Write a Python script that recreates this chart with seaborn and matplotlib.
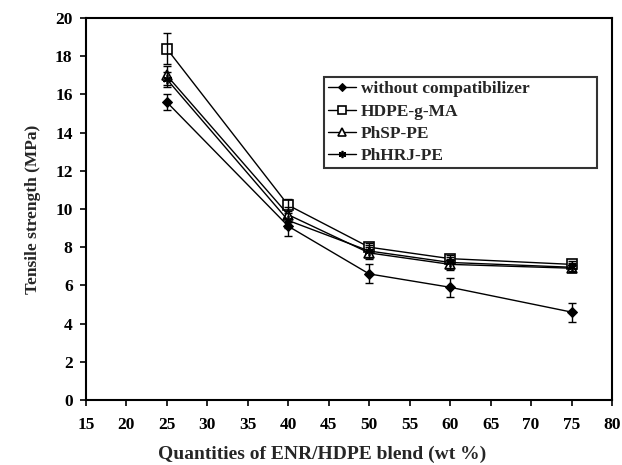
import matplotlib
matplotlib.use("Agg")
import matplotlib.pyplot as plt
import seaborn as sns
import pandas as pd

# Data
x_vals = [25, 40, 50, 60, 75]
without_comp = [15.6, 9.1, 6.6, 5.9, 4.6]
without_err = [0.4, 0.5, 0.5, 0.5, 0.5]
hdpe_g_ma = [18.4, 10.2, 8.0, 7.4, 7.1]
hdpe_err = [0.8, 0.3, 0.2, 0.2, 0.2]
phsp_pe = [17.0, 9.7, 7.7, 7.1, 6.9]
phsp_err = [0.5, 0.4, 0.3, 0.3, 0.2]
phhrj_pe = [16.8, 9.4, 7.8, 7.2, 6.95]
phhrj_err = [0.4, 0.4, 0.3, 0.3, 0.2]
series_names = ["without compatibilizer", "HDPE-g-MA", "PhSP-PE", "PhHRJ-PE"]
x_ticks = list(range(15, 81, 5))
y_ticks = list(range(0, 21, 2))

sns.set_theme(style="white")
plt.rcParams['font.family'] = ['Liberation Serif', 'DejaVu Serif']
plt.rcParams['font.weight'] = 'bold'

fig = plt.figure(figsize=(6.22, 4.65), dpi=100)
ax = fig.add_axes([0.138, 0.140, 0.846, 0.821])

series = [
    (without_comp, without_err, dict(marker='D', markersize=5.5, markerfacecolor='black', markeredgecolor='black')),
    (hdpe_g_ma, hdpe_err, dict(marker='s', markersize=6.5, markerfacecolor='white', markeredgecolor='black', markeredgewidth=1.2)),
    (phsp_pe, phsp_err, dict(marker='^', markersize=6.5, markerfacecolor='white', markeredgecolor='black', markeredgewidth=1.2)),
    (phhrj_pe, phhrj_err, dict(marker=(6, 2, 0), markersize=6.5, markeredgecolor='black', markeredgewidth=1.2)),
]

for name, (vals, errs, mk) in zip(series_names, series):
    df = pd.DataFrame({"x": x_vals, "y": vals})
    sns.lineplot(data=df, x="x", y="y", ax=ax, color='black', linewidth=1.0,
                 label=name, **mk)
    ax.errorbar(x_vals, vals, yerr=errs, fmt='none', ecolor='black',
                elinewidth=1.0, capsize=3, capthick=1.0)

ax.set_xlim(15, 80)
ax.set_ylim(0, 20)
ax.set_xticks(x_ticks)
ax.set_yticks(y_ticks)
ax.tick_params(axis='both', which='major', direction='out', length=4.5, width=1.2,
               colors='black', labelsize=12.5, bottom=True, left=True)
ax.tick_params(axis='x', pad=8)
ax.tick_params(axis='y', pad=5)
for lab in ax.get_xticklabels() + ax.get_yticklabels():
    lab.set_fontweight('bold')
for sp in ax.spines.values():
    sp.set_color('black')
    sp.set_linewidth(1.5)

ax.set_xlabel("Quantities of ENR/HDPE blend (wt %)",
              fontsize=14, fontweight='bold')
ax.xaxis.set_label_coords(0.449, -0.12)
ax.set_ylabel("Tensile strength (MPa)", fontsize=12.5, fontweight='bold', labelpad=10)

leg = ax.legend(loc='upper left', bbox_to_anchor=(0.452, 0.607, 0.519, 0.239),
                mode='expand', frameon=True, markerscale=0.8,
                fancybox=False, edgecolor='black', fontsize=12.5,
                borderpad=0.25, labelspacing=0.35, handlelength=1.6,
                handletextpad=0.3, borderaxespad=0)
leg.get_frame().set_linewidth(1.5)
for t in leg.get_texts():
    t.set_fontweight('bold')

fig.savefig("out.png", dpi=100)
